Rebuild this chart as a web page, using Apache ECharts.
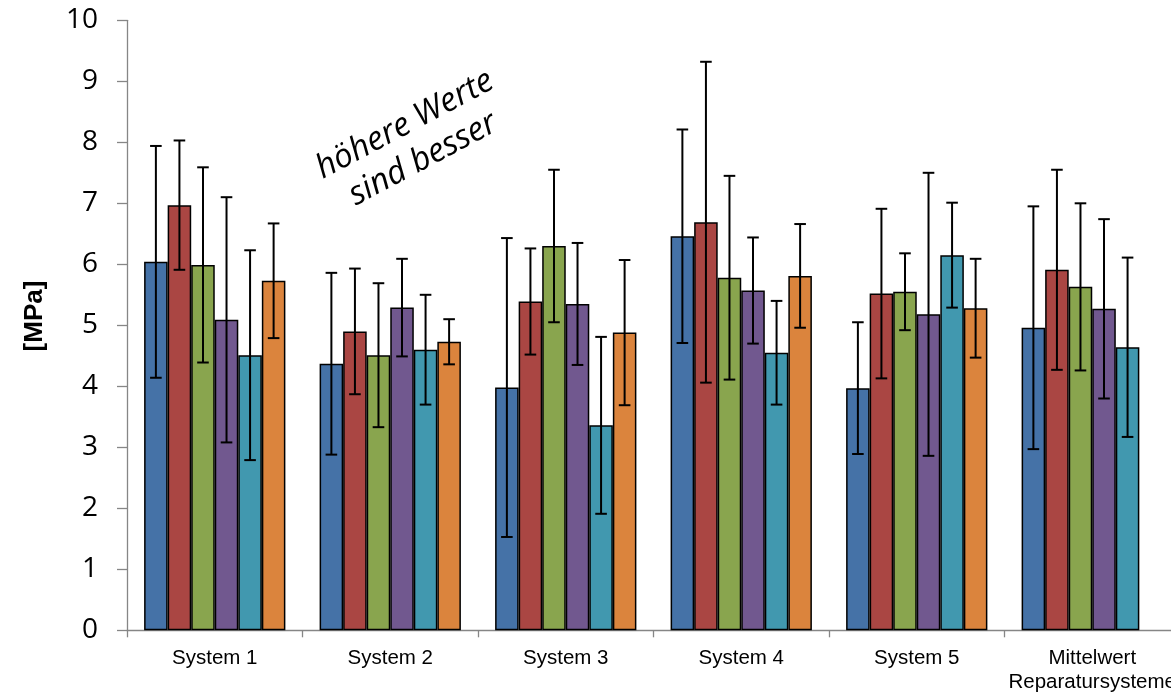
<!DOCTYPE html>
<html>
<head>
<meta charset="utf-8">
<script src="https://cdn.jsdelivr.net/npm/echarts@6/dist/echarts.min.js"></script>
<style>
  html, body { margin: 0; padding: 0; background: #fff; }
  #chart { width: 1171px; height: 695px; }
</style>
</head>
<body>
<div id="chart"></div>
<script>
// Categories along the x axis
const categories = ['System 1', 'System 2', 'System 3', 'System 4', 'System 5', 'Mittelwert\nReparatursysteme'];

// Mean values per series [MPa]
const reihe1 = [6.04, 4.37, 3.98, 6.46, 3.97, 4.96];
const reihe2 = [6.97, 4.90, 5.39, 6.69, 5.52, 5.91];
const reihe3 = [5.99, 4.51, 6.30, 5.78, 5.55, 5.63];
const reihe4 = [5.09, 5.29, 5.35, 5.57, 5.18, 5.27];
const reihe5 = [4.51, 4.60, 3.36, 4.55, 6.15, 4.64];
const reihe6 = [5.73, 4.73, 4.88, 5.81, 5.28, null];

// Standard deviations (symmetric error bars) [MPa]
const fehler1 = [1.90, 1.49, 2.45, 1.75, 1.08, 1.99];
const fehler2 = [1.06, 1.03, 0.87, 2.63, 1.39, 1.64];
const fehler3 = [1.60, 1.18, 1.25, 1.67, 0.63, 1.37];
const fehler4 = [2.01, 0.80, 1.00, 0.87, 2.32, 1.47];
const fehler5 = [1.72, 0.90, 1.45, 0.85, 0.86, 1.47];
const fehler6 = [0.94, 0.37, 1.19, 0.85, 0.81, null];

// Y axis ticks
const yMin = 0, yMax = 10, yStep = 1;

const seriesValues = [reihe1, reihe2, reihe3, reihe4, reihe5, reihe6];
const seriesErrors = [fehler1, fehler2, fehler3, fehler4, fehler5, fehler6];
const seriesNames = ['Reihe 1', 'Reihe 2', 'Reihe 3', 'Reihe 4', 'Reihe 5', 'Reihe 6'];
const colors = ['#4572A7', '#AA4643', '#89A54E', '#71588F', '#4198AF', '#DB843D'];

const CAT_GAP = 0.195;
const N = seriesValues.length;

const barSeries = seriesValues.map((vals, i) => ({
  name: seriesNames[i],
  type: 'bar',
  data: vals,
  barGap: '0%',
  barCategoryGap: (CAT_GAP * 100) + '%',
  itemStyle: { color: colors[i], borderColor: '#000', borderWidth: 1.5 },
  emphasis: { disabled: true },
  z: 2
}));

// Error bar data: [categoryIndex, value, error, seriesIndex]
const errData = [];
seriesValues.forEach((vals, i) => {
  vals.forEach((v, j) => {
    const e = seriesErrors[i][j];
    if (v != null && e != null) errData.push([j, v, e, i]);
  });
});

const errorSeries = {
  type: 'custom',
  name: 'Fehler',
  data: errData,
  encode: { x: 0, y: 1 },
  z: 10,
  silent: true,
  renderItem: function (params, api) {
    const cat = api.value(0);
    const val = api.value(1);
    const err = api.value(2);
    const si = api.value(3);
    const band = api.size([1, 0])[0];
    const groupW = band * (1 - CAT_GAP);
    const barW = groupW / N;
    const c = api.coord([cat, val]);
    const x = c[0] - groupW / 2 + (si + 0.5) * barW;
    const yTop = api.coord([cat, val + err])[1];
    const yBot = api.coord([cat, val - err])[1];
    const half = 5.8;
    const style = { stroke: '#000', lineWidth: 2 };
    return {
      type: 'group',
      children: [
        { type: 'line', shape: { x1: x, y1: yTop, x2: x, y2: yBot }, style: style },
        { type: 'line', shape: { x1: x - half, y1: yTop, x2: x + half, y2: yTop }, style: style },
        { type: 'line', shape: { x1: x - half, y1: yBot, x2: x + half, y2: yBot }, style: style }
      ]
    };
  }
};

const chart = echarts.init(document.getElementById('chart'), null, { renderer: 'canvas' });
chart.setOption({
  animation: false,
  backgroundColor: '#fff',
  grid: { left: 127, top: 20.3, height: 610, width: 1053, containLabel: false, outerBoundsMode: 'none' },
  xAxis: {
    type: 'category',
    data: categories,
    axisLine: { lineStyle: { color: '#868686', width: 1.3 } },
    axisTick: { show: true, length: 7, lineStyle: { color: '#868686', width: 1.3 } },
    axisLabel: {
      interval: 0,
      margin: 16,
      color: '#000',
      fontFamily: '"Liberation Sans", Arial, sans-serif',
      fontSize: 20.5,
      lineHeight: 24
    },
    splitLine: { show: false }
  },
  yAxis: {
    type: 'value',
    min: yMin,
    max: yMax,
    interval: yStep,
    axisLine: { show: true, lineStyle: { color: '#868686', width: 1.3 } },
    axisTick: { show: true, length: 10, lineStyle: { color: '#868686', width: 1.3 } },
    axisLabel: {
      margin: 29,
      color: '#000',
      fontFamily: '"Open Sans", sans-serif',
      fontSize: 28
    },
    splitLine: { show: false }
  },
  graphic: [
    {
      type: 'text',
      x: 35,
      y: 316,
      rotation: Math.PI / 2,
      style: {
        text: '[MPa]',
        fontFamily: '"Liberation Sans", Arial, sans-serif',
        fontWeight: 'bold',
        fontSize: 26,
        fill: '#000',
        align: 'center',
        verticalAlign: 'middle'
      }
    },
    {
      type: 'text',
      x: 414,
      y: 142,
      rotation: 28 * Math.PI / 180,
      style: {
        text: 'höhere Werte\nsind besser',
        fontFamily: '"Open Sans", sans-serif',
        fontStyle: 'italic',
        fontSize: 33,
        lineHeight: 39,
        fill: '#000',
        align: 'center',
        verticalAlign: 'middle'
      }
    }
  ],
  series: [...barSeries, errorSeries]
});
</script>
</body>
</html>
